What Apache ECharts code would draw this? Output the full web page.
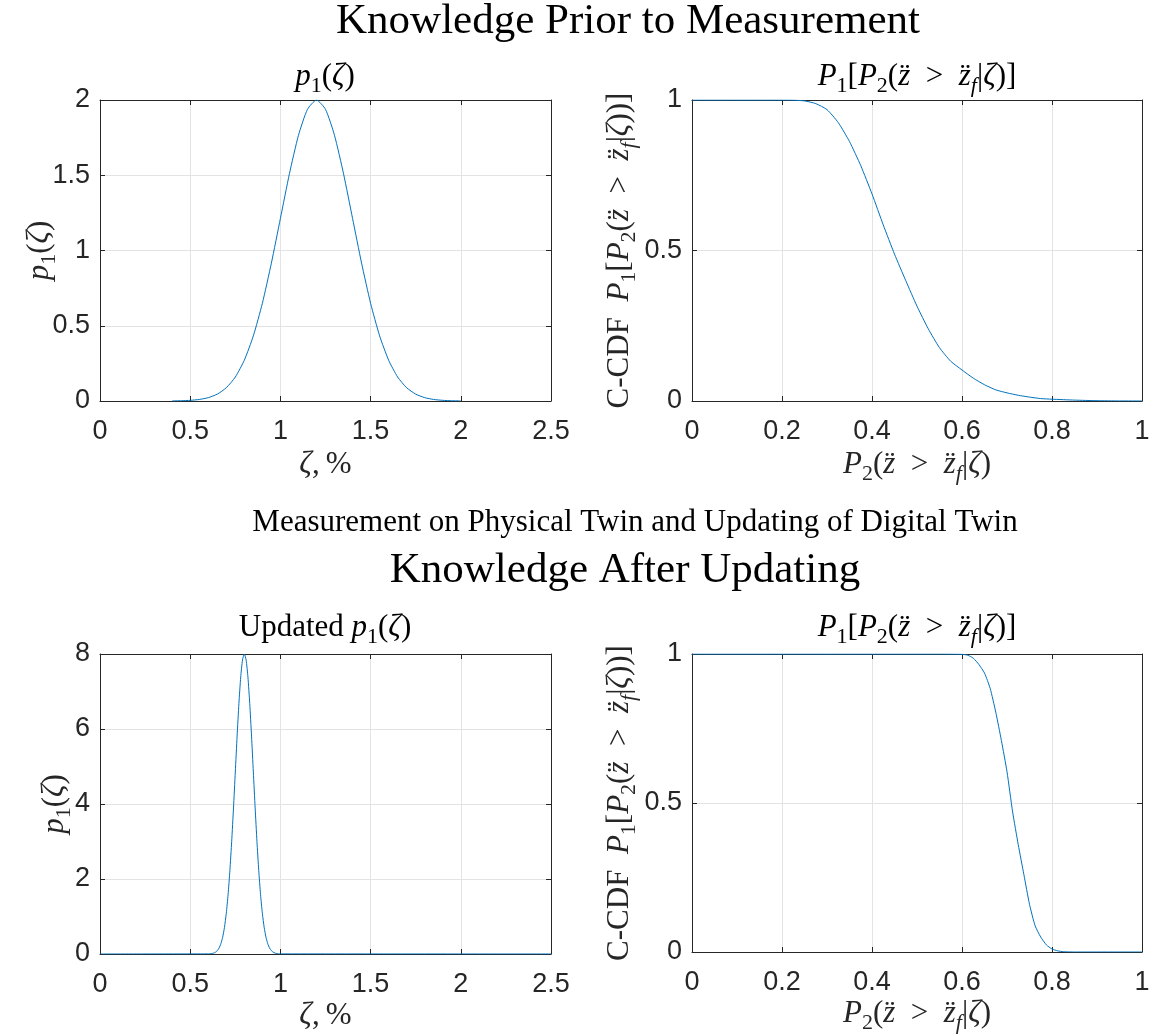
<!DOCTYPE html>
<html><head><meta charset="utf-8">
<script src="https://cdn.jsdelivr.net/npm/echarts@6/dist/echarts.min.js"></script>
<style>html,body{margin:0;padding:0;background:#fff}#c{width:1153px;height:1035px}</style>
</head><body><div id="c"></div>
<script>
// ---------- data ----------
const priorZeta = [0.40,0.45,0.50,0.55,0.60,0.65,0.70,0.75,0.80,0.85,0.90,0.95,1.00,1.05,1.10,1.15,1.20,1.25,1.30,1.35,1.40,1.45,1.50,1.55,1.60,1.65,1.70,1.75,1.80,1.85,1.90,1.95,2.00];
const priorPdf  = [0.0007,0.0018,0.0044,0.0102,0.0222,0.0456,0.0879,0.159,0.271,0.433,0.649,0.916,1.213,1.510,1.765,1.938,2.000,1.938,1.765,1.510,1.213,0.916,0.649,0.433,0.271,0.159,0.0879,0.0456,0.0222,0.0102,0.0044,0.0018,0.0007];

const priorP2   = [0,0.1,0.2,0.225,0.25,0.275,0.3,0.325,0.35,0.375,0.4,0.425,0.45,0.475,0.5,0.525,0.55,0.575,0.6,0.625,0.65,0.675,0.7,0.725,0.75,0.775,0.8,0.85,0.9,0.95,1.0];
const priorCCDF = [1,1,1,0.9995,0.997,0.988,0.968,0.925,0.862,0.782,0.688,0.585,0.488,0.400,0.315,0.240,0.177,0.132,0.103,0.076,0.054,0.037,0.027,0.019,0.013,0.008,0.006,0.003,0.001,0.0003,0];

const postZeta = [0,0.60,0.61,0.62,0.63,0.64,0.65,0.66,0.67,0.68,0.69,0.70,0.71,0.72,0.73,0.74,0.75,0.76,0.77,0.78,0.79,0.80,0.81,0.82,0.83,0.84,0.85,0.86,0.87,0.88,0.89,0.90,0.91,0.92,0.93,0.94,0.95,0.96,0.97,0.98,0.99,1.00,2.5];
const postPdf  = [0,0.0027,0.0058,0.0123,0.0247,0.048,0.0889,0.159,0.272,0.449,0.711,1.083,1.583,2.224,3.003,3.894,4.852,5.81,6.682,7.385,7.842,8.0,7.842,7.385,6.682,5.81,4.852,3.894,3.003,2.224,1.583,1.083,0.711,0.449,0.272,0.159,0.0889,0.048,0.0247,0.0123,0.0058,0.0027,0];

const postP2   = [0,0.2,0.4,0.55,0.6,0.6125,0.625,0.6375,0.65,0.6625,0.675,0.6875,0.7,0.7125,0.725,0.7375,0.75,0.7625,0.775,0.7875,0.8,0.8125,0.825,0.85,1.0];
const postCCDF = [1,1,1,1,0.999,0.996,0.986,0.965,0.936,0.885,0.805,0.71,0.605,0.47,0.36,0.26,0.16,0.088,0.05,0.024,0.01,0.004,0.001,0,0];

const zetaRange = [0, 2.5, 0.5];
const p2Range   = [0, 1, 0.2];
const priorPdfRange = [0, 2, 0.5];
const postPdfRange  = [0, 8, 2];
const ccdfRange     = [0, 1, 0.5];

// ---------- styling ----------
const SERIF = 'Liberation Serif';
const SANS = 'Liberation Sans';
const INK = '#262626';
const LINE = '#0072BD';
const MATH = 31;

function mathRich(size, color) {
  color = color || '#000';
  const lh = Math.round(size * 1.3);
  return {
    i:  {fontFamily: SERIF, fontStyle: 'italic', fontSize: size, lineHeight: lh, color: color, fill: color},
    r:  {fontFamily: SERIF, fontSize: size, lineHeight: lh, color: color, fill: color},
    s:  {fontFamily: SERIF, fontSize: Math.round(size*0.72), lineHeight: Math.round(size*0.95), verticalAlign: 'bottom', color: color, fill: color},
    si: {fontFamily: SERIF, fontStyle: 'italic', fontSize: Math.round(size*0.72), lineHeight: Math.round(size*0.95), verticalAlign: 'bottom', color: color, fill: color}
  };
}

const ZD = 'z\u0308';
const GT = '{r|\u2002>\u2002}';
const txtP1 = '{i|p}{s|1}{r|(}{i|ζ}{r|)}';
const txtBigP = '{i|P}{s|1}{r|[}{i|P}{s|2}{r|(}{i|' + ZD + '}' + GT + '{i|' + ZD + '}{si|f}{r||}{i|ζ}{r|)]}';
const txtP2 = '{i|P}{s|2}{r|(}{i|' + ZD + '}' + GT + '{i|' + ZD + '}{si|f}{r||}{i|ζ}{r|)}';
const txtCCDF = '{r|C-CDF\u2002}{i|P}{s|1}{r|[}{i|P}{s|2}{r|(}{i|' + ZD + '}' + GT + '{i|' + ZD + '}{si|f}{r||}{i|ζ}{r|))]}';
const txtZeta = '{i|ζ}{r|,\u2009%}';

const grids = [
  {left: 100, top: 100, width: 451, height: 301},
  {left: 692, top: 100, width: 450, height: 301},
  {left: 100, top: 654, width: 451, height: 300},
  {left: 692, top: 654, width: 450, height: 300}
];

function fmt(v) { return String(Math.round(v * 1000) / 1000); }

function xAxes(gi, rng, name, gap) {
  const base = {
    type: 'value', gridIndex: gi, min: rng[0], max: rng[1], interval: rng[2],
    axisLine: {show: true, onZero: false, lineStyle: {color: INK, width: 1}},
    axisTick: {show: true, inside: true, length: 5, lineStyle: {color: INK, width: 1}}
  };
  return [
    Object.assign({}, base, {
      position: 'bottom',
      axisLabel: {color: INK, fontFamily: SANS, fontSize: 27, margin: 17, formatter: fmt, showMinLabel: true, showMaxLabel: true},
      splitLine: {show: true, lineStyle: {color: '#e3e3e3', width: 1}},
      name: name, nameLocation: 'middle', nameGap: gap, nameMoveOverlap: false,
      nameTextStyle: {rich: mathRich(MATH, INK)}
    }),
    Object.assign({}, base, {
      position: 'top', axisLabel: {show: false}, splitLine: {show: false}
    })
  ];
}
function yAxes(gi, rng, name, gap) {
  const base = {
    type: 'value', gridIndex: gi, min: rng[0], max: rng[1], interval: rng[2],
    axisLine: {show: true, onZero: false, lineStyle: {color: INK, width: 1}},
    axisTick: {show: true, inside: true, length: 5, lineStyle: {color: INK, width: 1}}
  };
  return [
    Object.assign({}, base, {
      position: 'left',
      axisLabel: {color: INK, fontFamily: SANS, fontSize: 27, margin: 10, formatter: fmt, showMinLabel: true, showMaxLabel: true},
      splitLine: {show: true, lineStyle: {color: '#e3e3e3', width: 1}},
      name: name, nameLocation: 'middle', nameGap: gap, nameRotate: 90, nameMoveOverlap: false,
      nameTextStyle: {rich: mathRich(MATH, INK)}
    }),
    Object.assign({}, base, {
      position: 'right', axisLabel: {show: false}, splitLine: {show: false}
    })
  ];
}

const xAxis = [].concat(
  xAxes(0, zetaRange, txtZeta, 44),
  xAxes(1, p2Range, txtP2, 44),
  xAxes(2, zetaRange, txtZeta, 42),
  xAxes(3, p2Range, txtP2, 42)
);
const yAxis = [].concat(
  yAxes(0, priorPdfRange, txtP1, 40),
  yAxes(1, ccdfRange, txtCCDF, 52),
  yAxes(2, postPdfRange, txtP1, 25),
  yAxes(3, ccdfRange, txtCCDF, 52)
);

function pairs(xs, ys) { return xs.map((x, k) => [x, ys[k]]); }
function lineSeries(axisIdx, xs, ys) {
  return {
    type: 'line', xAxisIndex: axisIdx * 2, yAxisIndex: axisIdx * 2,
    data: pairs(xs, ys), showSymbol: false, symbol: 'none', smooth: 0.2,
    lineStyle: {color: LINE, width: 1}, clip: true, animation: false
  };
}

function gtext(x, y, text, size, rich) {
  const st = {text: text, x: 0, y: 0, align: 'center', verticalAlign: 'middle', fill: '#000', fontFamily: SERIF, fontSize: size};
  if (rich) st.rich = mathRich(size, '#000');
  return {type: 'text', x: x, y: y, style: st, silent: true};
}

const option = {
  animation: false,
  backgroundColor: '#fff',
  grid: grids.map(g => Object.assign({containLabel: false}, g)),
  xAxis: xAxis,
  yAxis: yAxis,
  series: [
    lineSeries(0, priorZeta, priorPdf),
    lineSeries(1, priorP2, priorCCDF),
    lineSeries(2, postZeta, postPdf),
    lineSeries(3, postP2, postCCDF)
  ],
  graphic: [
    gtext(628, 22, 'Knowledge Prior to Measurement', 43, false),
    gtext(635, 523, 'Measurement on Physical Twin and Updating of Digital Twin', 31, false),
    gtext(625, 571, 'Knowledge After Updating', 43, false),
    gtext(325, 77, txtP1, MATH, true),
    gtext(917, 77, txtBigP, MATH, true),
    gtext(325, 628, '{r|Updated }' + txtP1, MATH, true),
    gtext(917, 628, txtBigP, MATH, true)
  ]
};

const chart = echarts.init(document.getElementById('c'), null, {renderer: 'canvas'});
chart.setOption(option);
</script>
</body></html>
